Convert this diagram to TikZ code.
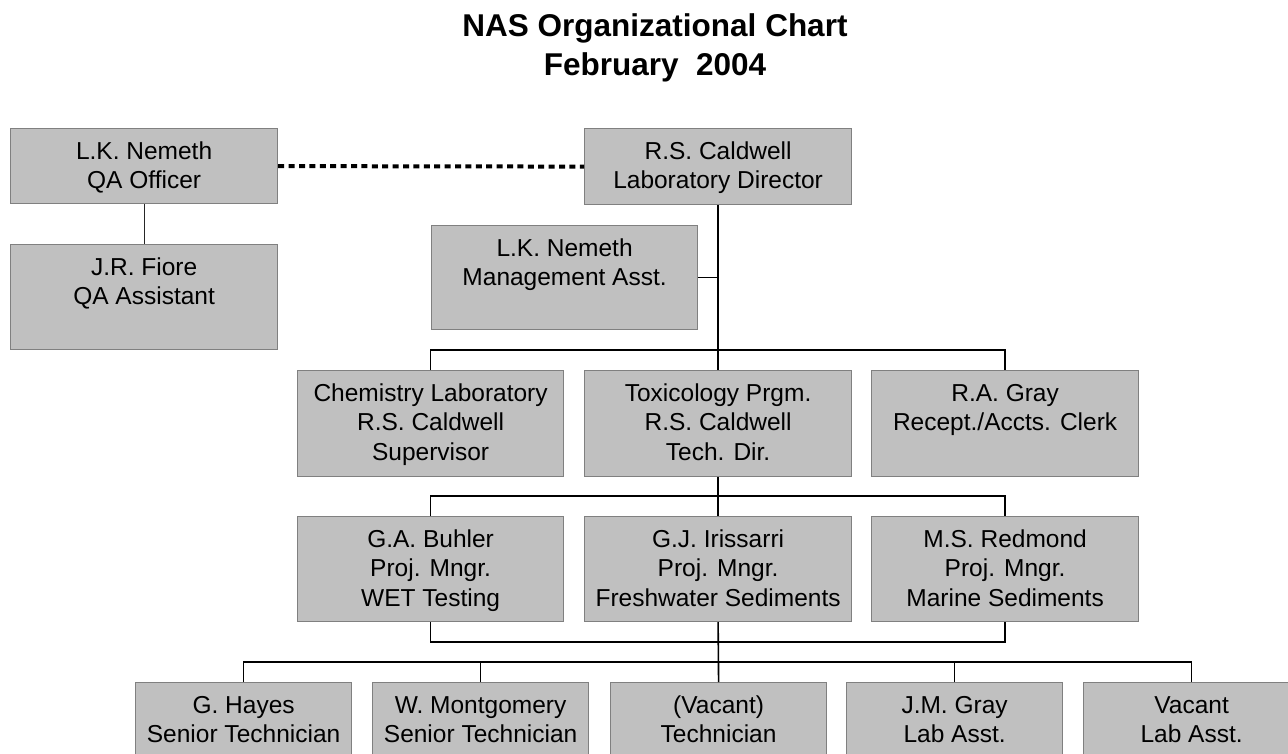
\documentclass[tikz,border=0pt]{standalone}
\usepackage{fontspec}
\setmainfont{Liberation Sans}
\definecolor{boxfill}{RGB}{192,192,192}
\definecolor{boxline}{RGB}{128,128,128}
\tikzset{
  orgbox/.style={draw=boxline, fill=boxfill, line width=1.2pt, inner sep=0pt, anchor=north west, rectangle},
  boxtext/.style={inner sep=0pt, anchor=north, align=center, font=\fontsize{24.5pt}{29.5pt}\selectfont},
  conn/.style={draw=black, line width=1.6pt},
  thinconn/.style={draw=black!85, line width=1pt},
  dotconn/.style={draw=black, line width=4pt, dash pattern=on 6pt off 4.4pt},
}
\newcommand{\fl}{\rule{0pt}{21pt}}
\begin{document}
\begin{tikzpicture}[x=1pt,y=-1pt]
\useasboundingbox (0,0) rectangle (1288,754);
\clip (0,0) rectangle (1288,754);
% title
\node[inner sep=0pt, anchor=north, align=center, font=\bfseries\fontsize{31.5pt}{39pt}\selectfont] (title) at (655,11) {\rule{0pt}{25pt}NAS Organizational Chart\\February\ \ 2004};
% row 1
\node[orgbox, minimum width=267pt, minimum height=75pt] (qa) at (10,128) {};
\node[boxtext] (qaT) at ([yshift=-10pt]qa.north) {\fl L.K. Nemeth\\QA Officer};
\node[orgbox, minimum width=267pt, minimum height=76pt] (cald) at (584,128) {};
\node[boxtext] (caldT) at ([yshift=-10pt]cald.north) {\fl R.S. Caldwell\\Laboratory Director};
% row 2
\node[orgbox, minimum width=267pt, minimum height=105pt] (fiore) at (10,244) {};
\node[boxtext] (fioreT) at ([yshift=-10pt]fiore.north) {\fl J.R. Fiore\\QA Assistant};
\node[orgbox, minimum width=266pt, minimum height=104pt] (mgmt) at (431,225) {};
\node[boxtext] (mgmtT) at ([yshift=-10pt]mgmt.north) {\fl L.K. Nemeth\\Management Asst.};
% row 3
\node[orgbox, minimum width=266pt, minimum height=106pt] (chem) at (297,370) {};
\node[boxtext] (chemT) at ([yshift=-10pt]chem.north) {\fl Chemistry Laboratory\\R.S. Caldwell\\Supervisor};
\node[orgbox, minimum width=267pt, minimum height=106pt] (tox) at (584,370) {};
\node[boxtext] (toxT) at ([yshift=-10pt]tox.north) {\fl Toxicology Prgm.\\R.S. Caldwell\\Tech. Dir.};
\node[orgbox, minimum width=267pt, minimum height=106pt] (gray) at (871,370) {};
\node[boxtext] (grayT) at ([yshift=-10pt]gray.north) {\fl R.A. Gray\\Recept./Accts. Clerk};
% row 4
\node[orgbox, minimum width=266pt, minimum height=105pt] (buhler) at (297,516) {};
\node[boxtext] (buhlerT) at ([yshift=-10pt]buhler.north) {\fl G.A. Buhler\\Proj. Mngr.\\WET Testing};
\node[orgbox, minimum width=267pt, minimum height=105pt] (iris) at (584,516) {};
\node[boxtext] (irisT) at ([yshift=-10pt]iris.north) {\fl G.J. Irissarri\\Proj. Mngr.\\Freshwater Sediments};
\node[orgbox, minimum width=267pt, minimum height=105pt] (red) at (871,516) {};
\node[boxtext] (redT) at ([yshift=-10pt]red.north) {\fl M.S. Redmond\\Proj. Mngr.\\Marine Sediments};
% row 5
\node[orgbox, minimum width=216pt, minimum height=110pt] (hayes) at (135,682) {};
\node[boxtext] (hayesT) at ([yshift=-10pt]hayes.north) {\fl G. Hayes\\Senior Technician};
\node[orgbox, minimum width=216pt, minimum height=110pt] (mont) at (372,682) {};
\node[boxtext] (montT) at ([yshift=-10pt]mont.north) {\fl W. Montgomery\\Senior Technician};
\node[orgbox, minimum width=216pt, minimum height=110pt] (vac) at (610,682) {};
\node[boxtext] (vacT) at ([yshift=-10pt]vac.north) {\fl (Vacant)\\Technician};
\node[orgbox, minimum width=216pt, minimum height=110pt] (jmg) at (846,682) {};
\node[boxtext] (jmgT) at ([yshift=-10pt]jmg.north) {\fl J.M. Gray\\Lab Asst.};
\node[orgbox, minimum width=216pt, minimum height=110pt] (vac2) at (1083,682) {};
\node[boxtext] (vac2T) at ([yshift=-10pt]vac2.north) {\fl Vacant\\Lab Asst.};
% bus coordinates
\coordinate (b1) at (717,350);
\coordinate (b2) at (717,496);
\coordinate (b3) at (717,642);
\coordinate (b4) at (717,662);
% connectors
\draw[dotconn] (qa.east) -- (cald.west);
\draw[thinconn] (qa.south) -- (fiore.north);
\draw[conn] (cald.south) -- (tox.north);
\draw[conn] (mgmt.east) -- (mgmt.east -| cald.south);
\draw[conn] (chem.north) -- (chem.north |- b1) -- (gray.north |- b1) -- (gray.north);
\draw[conn] (tox.south) -- (iris.north);
\draw[conn] (buhler.north) -- (buhler.north |- b2) -- (red.north |- b2) -- (red.north);
\draw[conn] (buhler.south) -- (buhler.south |- b3) -- (red.south |- b3) -- (red.south);
\draw[conn] (iris.south) -- (vac.north);
\draw[conn] (hayes.north) -- (hayes.north |- b4) -- (vac2.north |- b4) -- (vac2.north);
\draw[conn] (mont.north) -- (mont.north |- b4);
\draw[conn] (jmg.north) -- (jmg.north |- b4);
\end{tikzpicture}
\end{document}
